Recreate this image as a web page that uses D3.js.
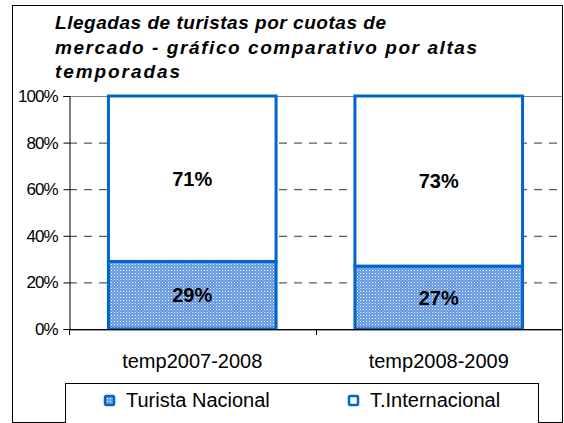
<!DOCTYPE html>
<html>
<head>
<meta charset="utf-8">
<script src="https://cdn.jsdelivr.net/npm/d3@7"></script>
<style>
  body { margin: 0; background: #fff; }
</style>
</head>
<body>
<div id="chart"></div>
<script>
var categories = ["temp2007-2008", "temp2008-2009"];
var nacional = [29, 27];
var internacional = [71, 73];
var yTicks = [0, 20, 40, 60, 80, 100];
var titleLines = ["Llegadas de turistas por cuotas de", "mercado - gráfico comparativo por altas", "temporadas"];
var seriesNames = ["Turista Nacional", "T.Internacional"];

var FONT = "'Liberation Sans', Arimo, Arial, Helvetica, sans-serif";
var width = 564, height = 423;
var svg = d3.select("#chart").append("svg")
  .attr("width", width)
  .attr("height", height)
  .attr("font-family", FONT);

// dotted fill like the excel pattern
var defs = svg.append("defs");
var pat = defs.append("pattern")
  .attr("id", "dots")
  .attr("width", 3).attr("height", 3)
  .attr("patternUnits", "userSpaceOnUse");
pat.append("rect").attr("width", 3).attr("height", 3).attr("fill", "#6096e2");
pat.append("rect").attr("x", 0).attr("y", 0).attr("width", 1).attr("height", 1).attr("fill", "#ffffff");
pat.append("rect").attr("x", 1.5).attr("y", 1.5).attr("width", 1).attr("height", 1).attr("fill", "#c4d8f4");

// outer frame
svg.append("rect")
  .attr("x", 12.5).attr("y", 5.5)
  .attr("width", 550).attr("height", 417)
  .attr("fill", "#fff")
  .attr("stroke", "#000");

// title, stretched like excel does
var titleLen = [331, 422, 125];
svg.append("g").selectAll("text").data(titleLines).enter().append("text")
  .attr("x", 55)
  .attr("y", function(d, i) { return 29 + i * 24.5; })
  .attr("textLength", function(d, i) { return titleLen[i]; })
  .attr("lengthAdjust", "spacing")
  .style("font-size", "19px")
  .style("font-weight", "bold")
  .style("font-style", "italic")
  .text(function(d) { return d; });

var margin = { left: 69, right: 562, top: 96, bottom: 329 };

var x = d3.scaleBand()
  .domain(categories)
  .range([margin.left, margin.right])
  .paddingInner(0.32)
  .paddingOuter(0.16);

var y = d3.scaleLinear()
  .domain([0, 100])
  .range([margin.bottom, margin.top]);

// gridlines
svg.append("g").selectAll("line").data(yTicks.filter(function(t) { return t > 0 && t < 100; }))
  .enter().append("line")
  .attr("x1", margin.left).attr("x2", margin.right)
  .attr("y1", function(d) { return y(d) + 0.5; })
  .attr("y2", function(d) { return y(d) + 0.5; })
  .attr("stroke", "#333")
  .attr("stroke-dasharray", "8,7");

svg.append("line")
  .attr("x1", margin.left).attr("x2", margin.right)
  .attr("y1", y(100) + 0.5).attr("y2", y(100) + 0.5)
  .attr("stroke", "#808080");

// bars
var rows = categories.map(function(c, i) {
  return { cat: c, nac: nacional[i], intl: internacional[i] };
});

var bars = svg.append("g").selectAll("g").data(rows).enter().append("g");

bars.append("rect")
  .attr("x", function(d) { return x(d.cat); })
  .attr("y", function(d) { return y(d.nac); })
  .attr("width", x.bandwidth())
  .attr("height", function(d) { return y(0) - y(d.nac); })
  .attr("fill", "url(#dots)")
  .attr("stroke", "#0066cc")
  .attr("stroke-width", 3);

bars.append("rect")
  .attr("x", function(d) { return x(d.cat); })
  .attr("y", function(d) { return y(d.nac + d.intl); })
  .attr("width", x.bandwidth())
  .attr("height", function(d) { return y(d.nac) - y(d.nac + d.intl); })
  .attr("fill", "#fff")
  .attr("stroke", "#0066cc")
  .attr("stroke-width", 3);

bars.append("text")
  .attr("x", function(d) { return x(d.cat) + x.bandwidth() / 2; })
  .attr("y", function(d) { return (y(0) + y(d.nac)) / 2 + 7; })
  .attr("text-anchor", "middle")
  .style("font-size", "20px")
  .style("font-weight", "bold")
  .text(function(d) { return d.nac + "%"; });

bars.append("text")
  .attr("x", function(d) { return x(d.cat) + x.bandwidth() / 2; })
  .attr("y", function(d) { return (y(d.nac) + y(d.nac + d.intl)) / 2 + 7; })
  .attr("text-anchor", "middle")
  .style("font-size", "20px")
  .style("font-weight", "bold")
  .text(function(d) { return d.intl + "%"; });

// y axis
var yAxis = d3.axisLeft(y)
  .tickValues(yTicks)
  .tickSize(6)
  .tickPadding(6)
  .tickFormat(function(d) { return d + "%"; });

var ya = svg.append("g")
  .attr("transform", "translate(" + (margin.left + 0.5) + ",0)")
  .call(yAxis);
ya.attr("font-family", FONT);
ya.select(".domain").attr("stroke", "#000");
ya.selectAll(".tick text")
  .style("font-size", "17px")
  .style("letter-spacing", "-1px")
  .attr("fill", "#000");

// x axis
svg.append("line")
  .attr("x1", margin.left).attr("x2", margin.right)
  .attr("y1", y(0) + 0.5).attr("y2", y(0) + 0.5)
  .attr("stroke", "#000");
svg.append("line")
  .attr("x1", margin.left).attr("x2", margin.right)
  .attr("y1", y(0) + 1.5).attr("y2", y(0) + 1.5)
  .attr("stroke", "#999");

var xTickPos = [margin.left, margin.left + (margin.right - margin.left) / 2];
svg.append("g").selectAll("line").data(xTickPos).enter().append("line")
  .attr("x1", function(d) { return Math.round(d) + 0.5; })
  .attr("x2", function(d) { return Math.round(d) + 0.5; })
  .attr("y1", y(0)).attr("y2", y(0) + 6)
  .attr("stroke", "#000");

svg.append("g").selectAll("text").data(categories).enter().append("text")
  .attr("x", function(d) { return x(d) + x.bandwidth() / 2; })
  .attr("y", 368)
  .attr("text-anchor", "middle")
  .style("font-size", "20px")
  .text(function(d) { return d; });

// legend
svg.append("rect")
  .attr("x", 65.5).attr("y", 383.5)
  .attr("width", 473).attr("height", 45)
  .attr("fill", "#fff")
  .attr("stroke", "#000");

var legendX = [104, 348];
var leg = svg.append("g").selectAll("g").data(seriesNames).enter().append("g")
  .attr("transform", function(d, i) { return "translate(" + legendX[i] + ",395)"; });

leg.append("rect")
  .attr("x", 1).attr("y", 1)
  .attr("width", 9).attr("height", 9)
  .attr("rx", 1)
  .attr("fill", function(d, i) { return i === 0 ? "url(#dots)" : "#fff"; })
  .attr("stroke", "#0066cc")
  .attr("stroke-width", 2.5);

leg.append("text")
  .attr("x", 22)
  .attr("y", 12)
  .style("font-size", "20px")
  .text(function(d) { return d; });
</script>
</body>
</html>
